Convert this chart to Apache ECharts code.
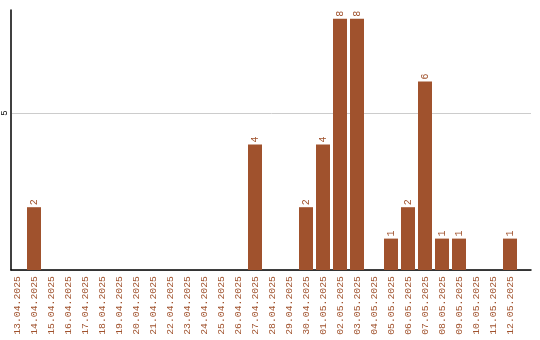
<!DOCTYPE html>
<html><head><meta charset="utf-8">
<script src="https://cdn.jsdelivr.net/npm/echarts@6/dist/echarts.min.js"></script>
<style>html,body{margin:0;padding:0;background:#fff}#c{width:540px;height:340px}</style>
</head><body><div id="c"></div>
<script>
const categories = ["13.04.2025","14.04.2025","15.04.2025","16.04.2025","17.04.2025","18.04.2025","19.04.2025","20.04.2025","21.04.2025","22.04.2025","23.04.2025","24.04.2025","25.04.2025","26.04.2025","27.04.2025","28.04.2025","29.04.2025","30.04.2025","01.05.2025","02.05.2025","03.05.2025","04.05.2025","05.05.2025","06.05.2025","07.05.2025","08.05.2025","09.05.2025","10.05.2025","11.05.2025","12.05.2025"];
const values = [0,2,0,0,0,0,0,0,0,0,0,0,0,0,4,0,0,2,4,8,8,0,1,2,6,1,1,0,0,1];
const yTicks = [5];
const yMax = 8.28;
const color = '#a0522d';
const font = 'Liberation Mono';

const chart = echarts.init(document.getElementById('c'), null, {renderer:'canvas'});
// plot area: y from 10 (value yMax) to 270 (value 0)
const top0 = 10, bottom0 = 70, plotH = 340 - top0 - bottom0;
const tickTop = top0 + plotH * (1 - yTicks[0] / yMax);
chart.setOption({
  animation:false,
  grid:[
    {left:8.5, right:21.5, top:top0, bottom:bottom0},
    {left:11, right:9, top:top0, bottom:bottom0},
    {left:11, right:9, top:tickTop, bottom:bottom0}
  ],
  xAxis:[
    {type:'category', gridIndex:0, data:categories,
     axisLine:{show:false}, axisTick:{show:false},
     axisLabel:{rotate:90, interval:0, color:color, fontFamily:font, fontSize:9.8, margin:6}},
    {type:'value', gridIndex:1, min:0, max:1,
     axisLine:{show:true, lineStyle:{color:'#000', width:1.5}}, axisTick:{show:false},
     axisLabel:{show:false}, splitLine:{show:false}},
    {type:'value', gridIndex:2, min:0, max:1, show:false}
  ],
  yAxis:[
    {type:'value', gridIndex:0, min:0, max:yMax, show:false, splitLine:{show:false}},
    {type:'value', gridIndex:1, min:0, max:yMax,
     axisLine:{show:true, lineStyle:{color:'#000', width:1.5}}, axisTick:{show:false},
     splitLine:{show:false}, axisLabel:{show:false}},
    {type:'value', gridIndex:2, min:0, max:yTicks[0], interval:yTicks[0],
     axisLine:{show:false}, axisTick:{show:false},
     splitLine:{show:true, lineStyle:{color:'#cccccc', width:1}},
     axisLabel:{rotate:90, margin:3, color:'#000', fontFamily:font, fontSize:9,
       formatter:function(v){return yTicks.indexOf(v)>=0 ? String(v) : '';}}}
  ],
  series:[{
    type:'bar', xAxisIndex:0, yAxisIndex:0, data:values, barWidth:14,
    itemStyle:{color:color},
    label:{show:true, position:'top', rotate:90, align:'left', verticalAlign:'middle', distance:2,
      color:color, fontFamily:font, fontSize:10,
      formatter:function(p){return p.value>0 ? String(p.value) : '';}}
  }]
});
</script></body></html>
